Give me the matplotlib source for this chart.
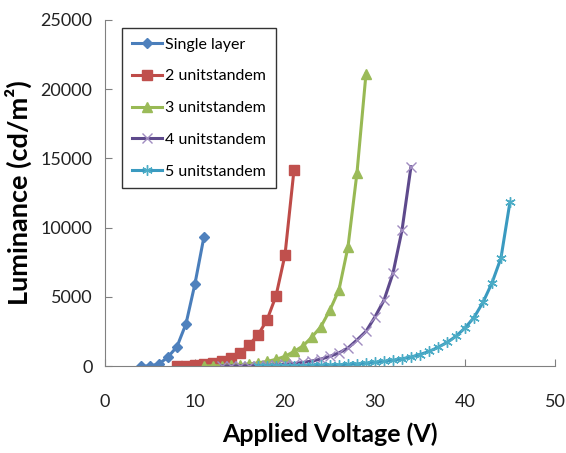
import matplotlib.pyplot as plt

plt.rcParams['font.family'] = ['Lato', 'DejaVu Sans']

# Single layer
v1 = [4, 5, 6, 7, 8, 9, 10, 11]
l1 = [0, 0, 150, 650, 1400, 3050, 5950, 9350]

# 2 units tandem
v2 = list(range(8, 22))
l2 = [10, 30, 70, 130, 230, 380, 600, 940, 1520, 2240, 3320, 5060, 8020, 14160]

# 3 units tandem
v3 = list(range(11, 30))
l3 = [5, 15, 30, 60, 100, 150, 230, 330, 480, 700, 1050, 1450, 2100, 2850,
      4050, 5500, 8600, 13950, 21100]

# 4 units tandem
v4 = list(range(13, 35))
l4 = [2, 5, 10, 18, 30, 50, 80, 120, 180, 260, 360, 500, 700, 950, 1300,
      1880, 2500, 3550, 4750, 6700, 9800, 14400]

# 5 units tandem
v5 = list(range(17, 46))
l5 = [2, 5, 9, 14, 20, 28, 38, 50, 70, 90, 115, 150, 210, 270, 340, 420,
      520, 650, 830, 1050, 1350, 1700, 2150, 2750, 3500, 4600, 6000, 7800, 11850]

labels = ['Single layer', '2 unitstandem', '3 unitstandem', '4 unitstandem', '5 unitstandem']

fig = plt.figure(figsize=(5.66, 4.53), dpi=100)
ax = fig.add_axes([0.1855, 0.192, 0.795, 0.764])

ax.plot(v1, l1, color='#4A7EBB', lw=2.2, marker='D', ms=5.5,
        mfc='#4F81BD', mec='#4F81BD', label=labels[0])
ax.plot(v2, l2, color='#BE4B48', lw=2.2, marker='s', ms=7,
        mfc='#C0504D', mec='#C0504D', label=labels[1])
ax.plot(v3, l3, color='#98B954', lw=2.2, marker='^', ms=6.5,
        mfc='#9BBB59', mec='#9BBB59', label=labels[2])
ax.plot(v4, l4, color='#5E4A8C', lw=2.2, marker='x', ms=6.5, mew=1,
        mec='#A08CC0', label=labels[3])
ax.plot(v5, l5, color='#3A9AC0', lw=2.2, marker=(6, 2, 0), ms=7.5, mew=1,
        mec='#4BACC6', label=labels[4])

ax.set_xlim(0, 50)
ax.set_ylim(0, 25000)
ax.set_xticks([0, 10, 20, 30, 40, 50])
ax.set_yticks([0, 5000, 10000, 15000, 20000, 25000])
ax.tick_params(direction='in', length=5, width=0.8, labelsize=13,
               colors='#808080', labelcolor='#222222')
ax.tick_params(axis='x', pad=20)
ax.tick_params(axis='y', pad=9)
ax.spines['top'].set_visible(False)
ax.spines['right'].set_visible(False)
ax.spines['left'].set_color('#808080')
ax.spines['bottom'].set_color('#808080')

ax.set_xlabel('Applied Voltage (V)', fontsize=18, fontweight='bold', labelpad=9)
ax.set_ylabel('Luminance (cd/m²)', fontsize=19.5, fontweight='bold', labelpad=6)

leg = ax.legend(loc='upper left', bbox_to_anchor=(0.038, 0.977), fontsize=11.5,
                frameon=True, fancybox=False, edgecolor='black',
                handlelength=1.9, handletextpad=0.2, labelspacing=1.1,
                borderpad=0.6, borderaxespad=0)
leg.get_frame().set_linewidth(1.0)

fig.savefig('out.png', dpi=100)
